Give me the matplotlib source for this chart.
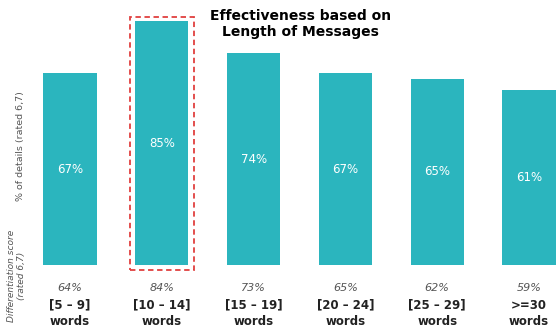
import matplotlib.pyplot as plt
import matplotlib.patches as patches

# data
categories = ["[5 – 9]\nwords", "[10 – 14]\nwords", "[15 – 19]\nwords",
              "[20 – 24]\nwords", "[25 – 29]\nwords", ">=30\nwords"]
details_pct = [67, 85, 74, 67, 65, 61]
diff_score = [64, 84, 73, 65, 62, 59]
highlight = 1

teal = "#2BB5BE"

fig = plt.figure(figsize=(5.6, 3.36), dpi=100)
ax = fig.add_axes([0, 0, 1, 1])
ax.axis("off")

# map data units so bars sit where they do in the picture
ax.set_xlim(-0.7625, 5.338)
ax.set_ylim(-24.78, 92.5)

x = list(range(len(categories)))
bars = ax.bar(x, details_pct, width=0.58, color=teal)

for xi, v in zip(x, details_pct):
    ax.text(xi, v / 2, f"{v}%", ha="center", va="center",
            color="white", fontsize=8.5)

for xi, s, c in zip(x, diff_score, categories):
    ax.text(xi, -8.0, f"{s}%", ha="center", va="center",
            color="#555555", fontsize=8, style="italic")
    ax.text(xi, -16.8, c, ha="center", va="center",
            color="#222222", fontsize=8.5, fontweight="bold", linespacing=1.3)

# dashed box around the best bar
box = patches.Rectangle((highlight - 0.35, -1.75), 0.70, 88.3,
                        fill=False, edgecolor="#E0403F", lw=1.3,
                        linestyle=(0, (3, 2)))
ax.add_patch(box)

fig.text(0.536, 0.972, "Effectiveness based on\nLength of Messages",
         ha="center", va="top", fontsize=10, fontweight="bold",
         linespacing=1.1)

fig.text(0.037, 0.565, "% of details (rated 6,7)", rotation=90,
         ha="center", va="center", fontsize=6.8, color="#555555")
fig.text(0.03, 0.18, "Differentiation score\n(rated 6,7)", rotation=90,
         ha="center", va="center", fontsize=6.5, color="#555555",
         style="italic", linespacing=1.1)

fig.savefig("out.png", dpi=100)
